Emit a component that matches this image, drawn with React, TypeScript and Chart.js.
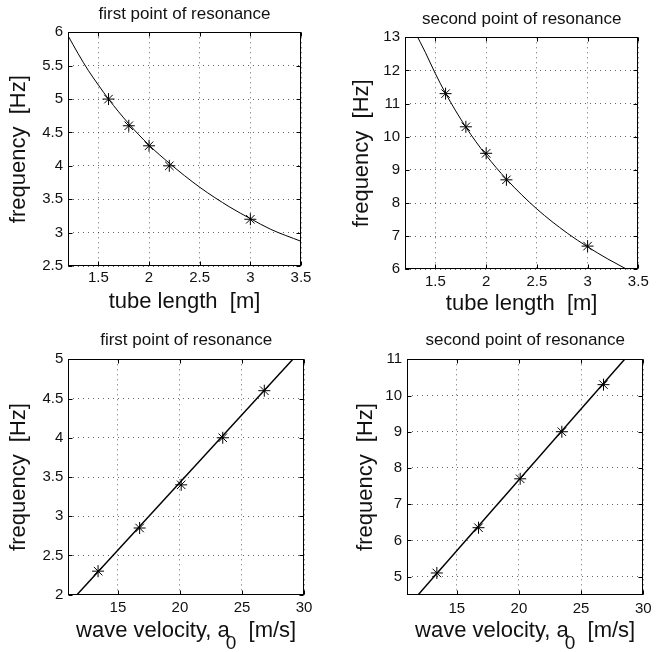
import React, { useEffect, useRef } from "react";
import { Chart, registerables } from "chart.js";

Chart.register(...registerables);
Chart.defaults.font.family = '"Liberation Sans", Arial, Helvetica, sans-serif';

// ---------- data ----------
// top-left: first point of resonance vs tube length
const tubeLengthMeasured = [1.6, 1.8, 2.0, 2.2, 3.0];
const firstResMeasured = [5.0, 4.6, 4.3, 4.0, 3.2];
const tubeLengthCurve1 = [1.2, 1.3, 1.4, 1.5, 1.6, 1.8, 2.0, 2.2, 2.5, 2.8, 3.0, 3.2, 3.5];
const firstResCurve = [5.95, 5.68, 5.43, 5.21, 5.0, 4.63, 4.31, 4.04, 3.68, 3.38, 3.21, 3.05, 2.87];

// top-right: second point of resonance vs tube length
const secondResMeasured = [11.3, 10.3, 9.5, 8.7, 6.7];
const tubeLengthCurve2 = [1.3, 1.4, 1.5, 1.6, 1.8, 2.0, 2.2, 2.5, 2.8, 3.0, 3.2, 3.5];
const secondResCurve = [13.15, 12.55, 11.9, 11.31, 10.29, 9.44, 8.72, 7.82, 7.09, 6.68, 6.31, 5.82];

// bottom: resonance vs wave velocity
const waveVelocityMeasured = [13.4, 16.75, 20.1, 23.45, 26.8];
const firstResByVelocity = [2.3, 2.85, 3.4, 4.0, 4.6];
const secondResByVelocity = [5.1, 6.35, 7.7, 9.0, 10.3];
const waveVelocityFit1 = [11.7, 29.1];
const firstResFit = [2.0, 5.0];
const waveVelocityFit2 = [11.9, 28.5];
const secondResFit = [4.5, 11.0];

// ticks
const tubeLengthTicks = [1.5, 2, 2.5, 3, 3.5];
const firstResTicksTop = [2.5, 3, 3.5, 4, 4.5, 5, 5.5, 6];
const secondResTicksTop = [6, 7, 8, 9, 10, 11, 12, 13];
const velocityTicks = [15, 20, 25, 30];
const firstResTicksBottom = [2, 2.5, 3, 3.5, 4, 4.5, 5];
const secondResTicksBottom = [5, 6, 7, 8, 9, 10, 11];

// ---------- layout ----------
const TITLE_SIZE = 17;
const TICK_SIZE = 15;
const LABEL_SIZE = 22;
const SUB_SIZE = 19;
const MID = 0.3465; // em middle offset from baseline
const TEXT = "#111";

type Spec = {
  x: number; y: number; w: number; h: number;
  area: { l: number; t: number; r: number; b: number };
  title: string; titleBaseline: number;
  xMin: number; xMax: number; yMin: number; yMax: number;
  xTicks: number[]; yTicks: number[];
  xTitle: string; xSub?: { before: string; sub: string; after: string };
  xTickBaseline: number; xTitleBaseline: number; yTitleBaseline: number;
  curveX: number[]; curveY: number[]; curveWidth: number; smooth: boolean;
  markX: number[]; markY: number[];
};

const framePlugin = {
  id: "frame",
  afterDraw(chart: any, _args: any, opts: any) {
    const { ctx, chartArea: a, scales } = chart;
    ctx.save();
    ctx.strokeStyle = "#000";
    ctx.lineWidth = 1;
    const L = Math.round(a.left) + 0.5;
    const R = Math.round(a.right) - 0.5;
    const T = Math.round(a.top) + 0.5;
    const B = Math.round(a.bottom) - 0.5;
    ctx.strokeRect(L, T, R - L, B - T);
    const tl = 4;
    ctx.beginPath();
    for (const t of scales.x.ticks) {
      const px = Math.round(scales.x.getPixelForValue(t.value)) + 0.5;
      ctx.moveTo(px, B); ctx.lineTo(px, B - tl);
      ctx.moveTo(px, T); ctx.lineTo(px, T + tl);
    }
    for (const t of scales.y.ticks) {
      const py = Math.round(scales.y.getPixelForValue(t.value)) + 0.5;
      ctx.moveTo(L, py); ctx.lineTo(L + tl, py);
      ctx.moveTo(R, py); ctx.lineTo(R - tl, py);
    }
    ctx.stroke();
    if (opts && opts.sub) {
      const s = opts.sub;
      ctx.fillStyle = TEXT;
      ctx.textBaseline = "alphabetic";
      ctx.textAlign = "left";
      const main = `${LABEL_SIZE}px "Liberation Sans", Arial, sans-serif`;
      const small = `${SUB_SIZE}px "Liberation Sans", Arial, sans-serif`;
      ctx.font = main;
      const w1 = ctx.measureText(s.before).width;
      const w3 = ctx.measureText(s.after).width;
      ctx.font = small;
      const w2 = ctx.measureText(s.sub).width;
      const overlap = 4;
      const total = w1 + w2 - overlap + w3;
      const x0 = (a.left + a.right) / 2 - total / 2;
      const base = opts.baseline;
      ctx.font = main;
      ctx.fillText(s.before, x0, base);
      ctx.font = small;
      ctx.fillText(s.sub, x0 + w1 - overlap, base + 12);
      ctx.font = main;
      ctx.fillText(s.after, x0 + w1 - overlap + w2, base);
    }
    ctx.restore();
  },
};

function buildConfig(s: Spec): any {
  const lhT = TITLE_SIZE * 1.2;
  const titlePadTop = s.titleBaseline - MID * TITLE_SIZE - lhT / 2;
  const titlePadBottom = s.area.t - titlePadTop - lhT;
  const xTickPad = s.xTickBaseline - s.area.b - (TICK_SIZE * 1.2) / 2 - MID * TICK_SIZE;
  const lhL = LABEL_SIZE * 1.2;
  const xTitlePadBottom = s.h - (s.xTitleBaseline - MID * LABEL_SIZE) - lhL / 2;
  const yTitlePadTop = s.yTitleBaseline - MID * LABEL_SIZE - lhL / 2;

  const grid = { color: "rgba(0,0,0,0.6)", lineWidth: 1, drawTicks: false };
  const border = { display: false, dash: [1, 4] };

  return {
    type: "scatter",
    data: {
      datasets: [
        {
          data: s.curveX.map((x, i) => ({ x, y: s.curveY[i] })),
          showLine: true,
          pointRadius: 0,
          borderColor: "#000",
          borderWidth: s.curveWidth,
          cubicInterpolationMode: s.smooth ? "monotone" : "default",
          tension: 0,
          fill: false,
        },
        {
          data: s.markX.map((x, i) => ({ x, y: s.markY[i] })),
          showLine: false,
          pointStyle: "star",
          pointRadius: 6,
          pointBorderColor: "#000",
          pointBackgroundColor: "#000",
          pointBorderWidth: 1,
        },
      ],
    },
    options: {
      animation: false,
      responsive: false,
      events: [],
      layout: { padding: { left: 0, top: 0, right: s.w - s.area.r, bottom: 0 } },
      plugins: {
        legend: { display: false },
        tooltip: { enabled: false },
        title: {
          display: true,
          text: s.title,
          fullSize: false,
          color: TEXT,
          font: { size: TITLE_SIZE, weight: "normal" },
          padding: { top: titlePadTop, bottom: titlePadBottom },
        },
        frame: s.xSub ? { sub: s.xSub, baseline: s.xTitleBaseline } : {},
      },
      scales: {
        x: {
          type: "linear",
          position: "bottom",
          min: s.xMin,
          max: s.xMax,
          afterBuildTicks: (sc: any) => { sc.ticks = s.xTicks.map((v) => ({ value: v })); },
          afterFit: (sc: any) => { sc.height = s.h - s.area.b; },
          grid,
          border,
          ticks: {
            padding: xTickPad,
            color: TEXT,
            font: { size: TICK_SIZE },
            maxRotation: 0,
            autoSkip: false,
            callback: (v: any) => String(v),
          },
          title: {
            display: !s.xSub,
            text: s.xTitle,
            color: TEXT,
            font: { size: LABEL_SIZE },
            padding: { top: 0, bottom: xTitlePadBottom },
          },
        },
        y: {
          type: "linear",
          position: "left",
          min: s.yMin,
          max: s.yMax,
          afterBuildTicks: (sc: any) => { sc.ticks = s.yTicks.map((v) => ({ value: v })); },
          afterFit: (sc: any) => { sc.width = s.area.l; },
          grid,
          border,
          ticks: {
            padding: 5,
            color: TEXT,
            font: { size: TICK_SIZE },
            autoSkip: false,
            callback: (v: any) => String(v),
          },
          title: {
            display: true,
            text: "frequency  [Hz]",
            color: TEXT,
            font: { size: LABEL_SIZE },
            padding: { top: yTitlePadTop, bottom: 0 },
          },
        },
      },
    },
    plugins: [framePlugin],
  };
}

const specs: Spec[] = [
  {
    x: 0, y: 0, w: 331, h: 326,
    area: { l: 68, t: 32.3, r: 301, b: 266 },
    title: "first point of resonance", titleBaseline: 20.7,
    xMin: 1.2, xMax: 3.5, yMin: 2.5, yMax: 6,
    xTicks: tubeLengthTicks, yTicks: firstResTicksTop,
    xTitle: "tube length  [m]",
    xTickBaseline: 283.3, xTitleBaseline: 310, yTitleBaseline: 27,
    curveX: tubeLengthCurve1, curveY: firstResCurve, curveWidth: 1, smooth: true,
    markX: tubeLengthMeasured, markY: firstResMeasured,
  },
  {
    x: 331, y: 0, w: 331, h: 326,
    area: { l: 74, t: 37.3, r: 307.3, b: 269.3 },
    title: "second point of resonance", titleBaseline: 25.7,
    xMin: 1.2, xMax: 3.5, yMin: 6, yMax: 13,
    xTicks: tubeLengthTicks, yTicks: secondResTicksTop,
    xTitle: "tube length  [m]",
    xTickBaseline: 287.3, xTitleBaseline: 311.7, yTitleBaseline: 39,
    curveX: tubeLengthCurve2, curveY: secondResCurve, curveWidth: 1, smooth: true,
    markX: tubeLengthMeasured, markY: secondResMeasured,
  },
  {
    x: 0, y: 326, w: 331, h: 326,
    area: { l: 68.3, t: 33.3, r: 304, b: 268.7 },
    title: "first point of resonance", titleBaseline: 20.7,
    xMin: 11, xMax: 30, yMin: 2, yMax: 5,
    xTicks: velocityTicks, yTicks: firstResTicksBottom,
    xTitle: "wave velocity, a0  [m/s]",
    xSub: { before: "wave velocity, a", sub: "0", after: "  [m/s]" },
    xTickBaseline: 287.3, xTitleBaseline: 311.3, yTitleBaseline: 27,
    curveX: waveVelocityFit1, curveY: firstResFit, curveWidth: 1.5, smooth: false,
    markX: waveVelocityMeasured, markY: firstResByVelocity,
  },
  {
    x: 331, y: 326, w: 331, h: 326,
    area: { l: 76, t: 33.3, r: 312.3, b: 268.7 },
    title: "second point of resonance", titleBaseline: 20.7,
    xMin: 11, xMax: 30, yMin: 4.5, yMax: 11,
    xTicks: velocityTicks, yTicks: secondResTicksBottom,
    xTitle: "wave velocity, a0  [m/s]",
    xSub: { before: "wave velocity, a", sub: "0", after: "  [m/s]" },
    xTickBaseline: 288, xTitleBaseline: 311.3, yTitleBaseline: 42.3,
    curveX: waveVelocityFit2, curveY: secondResFit, curveWidth: 1.5, smooth: false,
    markX: waveVelocityMeasured, markY: secondResByVelocity,
  },
];

function Panel({ spec }: { spec: Spec }) {
  const ref = useRef<HTMLCanvasElement>(null);
  useEffect(() => {
    const canvas = ref.current;
    if (!canvas) return;
    const chart = new Chart(canvas, buildConfig(spec));
    return () => chart.destroy();
  }, [spec]);
  return (
    <canvas
      ref={ref}
      width={spec.w}
      height={spec.h}
      style={{ position: "absolute", left: spec.x, top: spec.y, width: spec.w, height: spec.h }}
    />
  );
}

export default function App() {
  return (
    <div style={{ position: "absolute", left: 0, top: 0, width: 662, height: 652, background: "#fff", overflow: "hidden" }}>
      {specs.map((s, i) => (
        <Panel key={i} spec={s} />
      ))}
    </div>
  );
}
